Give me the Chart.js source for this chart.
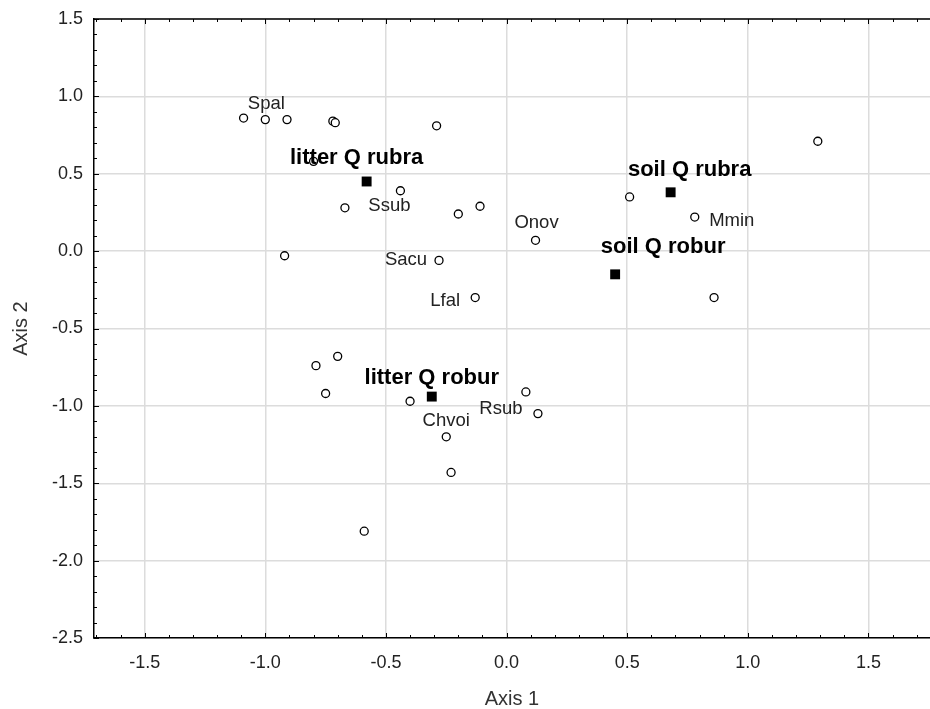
<!DOCTYPE html>
<html>
<head>
<meta charset="utf-8">
<script src="https://cdn.jsdelivr.net/npm/chart.js"></script>
<style>
  html, body { margin: 0; padding: 0; background: #fff; }
  #wrap { width: 930px; height: 709px; }
</style>
</head>
<body>
<div id="wrap"><canvas id="c" width="930" height="709"></canvas></div>
<script>
// ============================================
// Ordination plot: species (open circles) and sites (squares)
// ============================================

// species scores (Axis 1, Axis 2)
var speciesX = [-1.09, -1.00, -0.91, -0.72, -0.71, -0.29, -0.80, -0.44, -0.67, -0.20, -0.11,
                -0.92, -0.28, -0.13, 0.12, 0.51, 0.78, 0.86, 1.29,
                -0.79, -0.70, -0.75, -0.40, 0.08, 0.13, -0.25, -0.23, -0.59];
var speciesY = [0.86, 0.85, 0.85, 0.84, 0.83, 0.81, 0.58, 0.39, 0.28, 0.24, 0.29,
                -0.03, -0.06, -0.30, 0.07, 0.35, 0.22, -0.30, 0.71,
                -0.74, -0.68, -0.92, -0.97, -0.91, -1.05, -1.20, -1.43, -1.81];
var speciesNames = ['', 'Spal', '', '', '', '', '', 'Ssub', '', '', '',
                    '', 'Sacu', 'Lfal', 'Onov', '', 'Mmin', '', '',
                    '', '', '', '', '', 'Rsub', 'Chvoi', '', ''];

// site scores
var siteX = [-0.58, 0.68, 0.45, -0.31];
var siteY = [0.45, 0.38, -0.15, -0.94];
var siteNames = ['litter Q rubra', 'soil Q rubra', 'soil Q robur', 'litter Q robur'];

// axis ticks
var xTicks = [-1.5, -1.0, -0.5, 0.0, 0.5, 1.0, 1.5];
var yTicks = [1.5, 1.0, 0.5, 0.0, -0.5, -1.0, -1.5, -2.0, -2.5];

// label offsets in px from the marker (text centre)
var labelShift = {
    'Spal': [1, -16], 'Ssub': [-11, 15], 'Sacu': [-33, -1], 'Lfal': [-30, 3],
    'Onov': [1, -17], 'Mmin': [37, 4], 'Rsub': [-37, -5], 'Chvoi': [0, -16],
    'litter Q rubra': [-10, -24], 'soil Q rubra': [19, -22],
    'soil Q robur': [48, -27], 'litter Q robur': [0, -19]
};

var FONT = "'Liberation Sans', Arial, sans-serif";

function toPoints(xs, ys) {
    var out = [];
    for (var i = 0; i < xs.length; i++) out.push({ x: xs[i], y: ys[i] });
    return out;
}

// --------------------------------------------------
//  Plot area runs to the right edge (picture is cropped there)
// --------------------------------------------------
var stretchPlugin = {
    id: 'stretch',
    afterLayout: function (chart) {
        var a = chart.chartArea, xs = chart.scales.x;
        a.right = chart.width;
        a.width = a.right - a.left;
        xs.right = a.right;
        xs.width = xs.right - xs.left;
        xs.configure();
    }
};

// --------------------------------------------------
//  Frame with inward major / minor ticks
// --------------------------------------------------
var framePlugin = {
    id: 'frame',
    afterDraw: function (chart) {
        var c = chart.ctx, a = chart.chartArea;
        var xs = chart.scales.x, ys = chart.scales.y;
        c.save();
        c.strokeStyle = '#000';
        c.lineWidth = 1.5;
        c.beginPath();
        c.moveTo(a.left, a.top);
        c.lineTo(a.right, a.top);
        c.stroke();
        c.lineWidth = 1;
        var v, p, len;
        for (var k = -17; k <= 17; k++) {
            v = k / 10;
            if (v < xs.min || v > xs.max) continue;
            p = Math.round(xs.getPixelForValue(v)) + 0.5;
            len = (k % 5 === 0) ? 5 : 3;
            c.beginPath();
            c.moveTo(p, a.bottom); c.lineTo(p, a.bottom - len);
            c.moveTo(p, a.top); c.lineTo(p, a.top + len);
            c.stroke();
        }
        for (var j = -25; j <= 15; j++) {
            v = j / 10;
            p = Math.round(ys.getPixelForValue(v)) + 0.5;
            len = (j % 5 === 0) ? 5 : 3;
            c.beginPath();
            c.moveTo(a.left, p); c.lineTo(a.left + len, p);
            c.stroke();
        }
        c.restore();
    }
};

// --------------------------------------------------
//  Point labels
// --------------------------------------------------
var labelPlugin = {
    id: 'pointLabels',
    afterDatasetsDraw: function (chart) {
        var c = chart.ctx;
        c.save();
        c.textAlign = 'center';
        c.textBaseline = 'middle';
        chart.data.datasets.forEach(function (ds, di) {
            var meta = chart.getDatasetMeta(di);
            meta.data.forEach(function (el, i) {
                var name = ds.names[i];
                if (!name) return;
                var sh = labelShift[name] || [0, -14];
                c.font = ds.bold ? 'bold 22px ' + FONT : '18.5px ' + FONT;
                c.fillStyle = ds.bold ? '#000' : '#222';
                c.fillText(name, el.x + sh[0], el.y + sh[1]);
            });
        });
        c.restore();
    }
};

new Chart(document.getElementById('c').getContext('2d'), {
    type: 'scatter',
    data: {
        datasets: [
            {
                label: 'species',
                data: toPoints(speciesX, speciesY),
                names: speciesNames,
                pointStyle: 'circle',
                pointRadius: 4,
                pointBorderWidth: 1.3,
                pointBorderColor: '#000',
                pointBackgroundColor: '#fff'
            },
            {
                label: 'sites',
                data: toPoints(siteX, siteY),
                names: siteNames,
                bold: true,
                pointStyle: 'rect',
                pointRadius: 7,
                pointBorderWidth: 0,
                pointBackgroundColor: '#000',
                pointBorderColor: '#000'
            }
        ]
    },
    options: {
        responsive: false,
        animation: false,
        devicePixelRatio: 1,
        layout: { padding: { top: 19, right: 0, left: 0, bottom: 0 } },
        plugins: { legend: { display: false }, tooltip: { enabled: false } },
        scales: {
            x: {
                type: 'linear',
                min: -1.71,
                max: 1.755,
                afterFit: function (s) {
                    s.height = 71;
                    s.paddingLeft = 0;
                    s.paddingRight = 0;
                },
                afterBuildTicks: function (s) {
                    s.ticks = xTicks.map(function (v) { return { value: v }; });
                },
                grid: { color: '#dcdcdc', lineWidth: 1.5, drawTicks: false },
                border: { display: true, color: '#000', width: 1.5 },
                ticks: {
                    padding: 14,
                    color: '#222',
                    font: { size: 18, family: FONT },
                    callback: function (v) { return Number(v).toFixed(1); }
                },
                title: {
                    display: true,
                    text: 'Axis 1',
                    color: '#333',
                    font: { size: 20, family: FONT, lineHeight: 1 },
                    padding: { top: 0, bottom: 0 }
                }
            },
            y: {
                type: 'linear',
                min: -2.5,
                max: 1.5,
                afterFit: function (s) {
                    s.width = 94;
                    s.paddingTop = 0;
                    s.paddingBottom = 0;
                },
                afterBuildTicks: function (s) {
                    s.ticks = yTicks.map(function (v) { return { value: v }; });
                },
                grid: { color: '#dcdcdc', lineWidth: 1.5, drawTicks: false },
                border: { display: true, color: '#000', width: 1.5 },
                ticks: {
                    padding: 11,
                    color: '#222',
                    font: { size: 18, family: FONT },
                    callback: function (v) { return Number(v).toFixed(1); }
                },
                title: {
                    display: true,
                    text: 'Axis 2',
                    color: '#333',
                    font: { size: 20, family: FONT, lineHeight: 1 },
                    padding: { top: 11, bottom: 0 }
                }
            }
        }
    },
    plugins: [stretchPlugin, framePlugin, labelPlugin]
});
</script>
</body>
</html>
